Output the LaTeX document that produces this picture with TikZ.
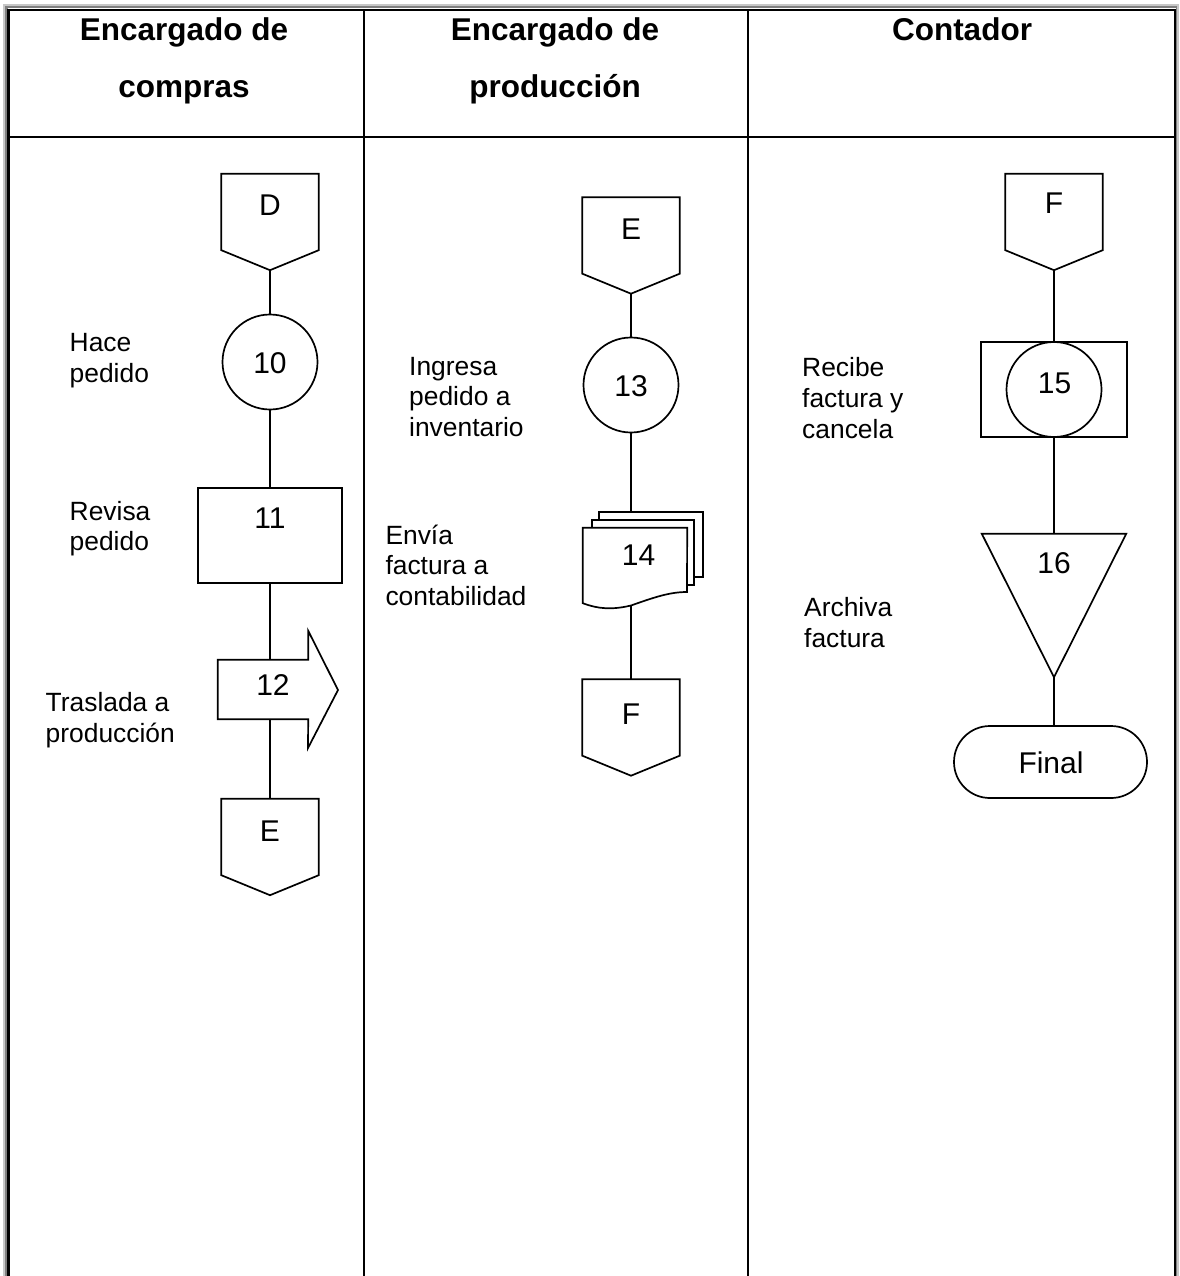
\documentclass[tikz,border=0pt]{standalone}
\usepackage{fontspec}
\setmainfont{Liberation Sans}
\usetikzlibrary{calc}
\newcommand\offpagepath[1]{\draw[shp] (#1.north west) -- (#1.north east) -- (#1.south east) -- ($(#1.south)+(0,20)$) coordinate (#1-tip) -- (#1.south west) -- cycle;}
\begin{document}
\begin{tikzpicture}[x=1pt,y=-1pt,
  shp/.style={draw, line width=1.7pt},
  conn/.style={line width=1.7pt},
  lbl/.style={anchor=north west, inner sep=0pt, align=left, font=\fontsize{26.4}{30.7}\selectfont},
  num/.style={anchor=base, inner sep=0pt, font=\fontsize{30}{34}\selectfont},
  hdr/.style={anchor=base, inner sep=0pt, font=\fontsize{31.5}{36}\selectfont\bfseries},
  offp/.style={rectangle, minimum width=97pt, minimum height=76pt, inner sep=0pt},
  circ/.style={circle, draw, line width=1.7pt, minimum size=95pt, inner sep=0pt},
  box/.style={rectangle, inner sep=0pt}
]
\useasboundingbox (0,0) rectangle (1179,1276);
% table frame
\fill[black!22] (3,4) rectangle (1179,1276);
\fill[black!50] (5,6) rectangle (1177,1276);
\fill[white] (7.5,8.5) rectangle (1176,1276);
\draw[line width=2.4pt] (8.4,1276) |- (1175,9.8) -- (1175,1276);
\draw[line width=2.2pt] (8.4,137) -- (1175,137);
\draw[line width=2.2pt] (364,9.8) -- (364,1276);
\draw[line width=2.2pt] (748,9.8) -- (748,1276);
% headers
\node[hdr] (h1a) at (184,41) {Encargado de};
\node[hdr] (h1b) at (184,98) {compras};
\node[hdr] (h2a) at (555,41) {Encargado de};
\node[hdr] (h2b) at (555,98) {producción};
\node[hdr] (h3a) at (962,41) {Contador};

% ---- column 1
\node[offp] (D1) at (270,212) {};
\offpagepath{D1}
\node[num] (tD1) at (270,215) {D};
\node[circ] (c10) at (270,362) {};
\node[num] (t10) at (270,373) {10};
\node[box, draw, line width=1.7pt, minimum width=144pt, minimum height=95pt] (r11) at (270,535.5) {};
\node[num] (t11) at (270,528) {11};
\node[box, minimum width=90pt, minimum height=59pt] (n12) at (263,689.5) {};
\draw[shp] (n12.north west) -- (n12.north east) -- ++(0,-29) -- (338,690) -- (308,748) -- (n12.south east) -- (n12.south west) -- cycle;
\node[num] (t12) at (273,695) {12};
\node[offp] (E1) at (270,837) {};
\offpagepath{E1}
\node[num] (tE1) at (270,841) {E};
\draw[conn] (D1-tip) -- (c10.north);
\draw[conn] (c10.south) -- (r11.north);
\draw[conn] (r11.south) -- (r11.south |- n12.north);
\draw[conn] (r11.south |- n12.south) -- (E1.north);
\node[lbl] (l10) at (69.5,330.2) {\strut Hace\\\strut pedido};
\node[lbl] (l11) at (69.5,498.5) {\strut Revisa\\\strut pedido};
\node[lbl] (l12) at (45.5,690.2) {\strut Traslada a\\\strut producción};

% ---- column 2
\node[offp] (E2) at (631,235.5) {};
\offpagepath{E2}
\node[num] (tE2) at (631,239) {E};
\node[circ] (c13) at (631,385) {};
\node[num] (t13) at (631,396) {13};
\node[box, minimum width=104pt, minimum height=75pt] (n14) at (635,565.5) {};
\draw[shp] (599,520) -- (599,512) -- (703,512) -- (703,577) -- (694,577);
\draw[shp] (592,528) -- (592,520) -- (694,520) -- (694,585) -- (687,585);
\draw[shp] (n14.north west) -- (n14.south west) .. controls (598,609) and (612,610) .. (631,605.5) .. controls (655,597) and (670,592) .. (687,592) -- (n14.north east) -- cycle;
\coordinate (d14top) at (631,512);
\coordinate (d14bot) at (631,605.5);
\node[num] (t14) at (638.5,565) {14};
\node[offp] (F2) at (631,717.5) {};
\offpagepath{F2}
\node[num] (tF2) at (631,724) {F};
\draw[conn] (E2-tip) -- (c13.north);
\draw[conn] (c13.south) -- (d14top);
\draw[conn] (d14bot) -- (F2.north);
\node[lbl] (l13) at (409,353.5) {\strut Ingresa\\\strut pedido a\\\strut inventario};
\node[lbl] (l14) at (385.3,522.5) {\strut Envía\\\strut factura a\\\strut contabilidad};

% ---- column 3
\node[offp] (F3) at (1054,212) {};
\offpagepath{F3}
\node[num] (tF3) at (1054,214) {F};
\node[box, draw, line width=1.7pt, minimum width=146pt, minimum height=95pt] (r15) at (1054,389.5) {};
\node[circ] (c15) at (1054,389.5) {};
\node[num] (t15) at (1054.5,393) {15};
\node[box, minimum width=144pt, minimum height=143pt] (n16) at (1054,605.5) {};
\draw[shp] (n16.north west) -- (n16.north east) -- (n16.south) -- cycle;
\node[num] (t16) at (1054,573) {16};
\node[box, draw, line width=1.7pt, rounded corners=35.9pt, minimum width=193pt, minimum height=72pt] (fin) at (1050.5,762) {};
\node[num] (tfin) at (1051,773) {Final};
\draw[conn] (F3-tip) -- (r15.north);
\draw[conn] (r15.south) -- (n16.north);
\draw[conn] (n16.south) -- (n16.south |- fin.north);
\node[lbl] (l15) at (802,355.2) {\strut Recibe\\\strut factura y\\\strut cancela};
\node[lbl] (l16) at (804,595.2) {\strut Archiva\\\strut factura};
\end{tikzpicture}
\end{document}
